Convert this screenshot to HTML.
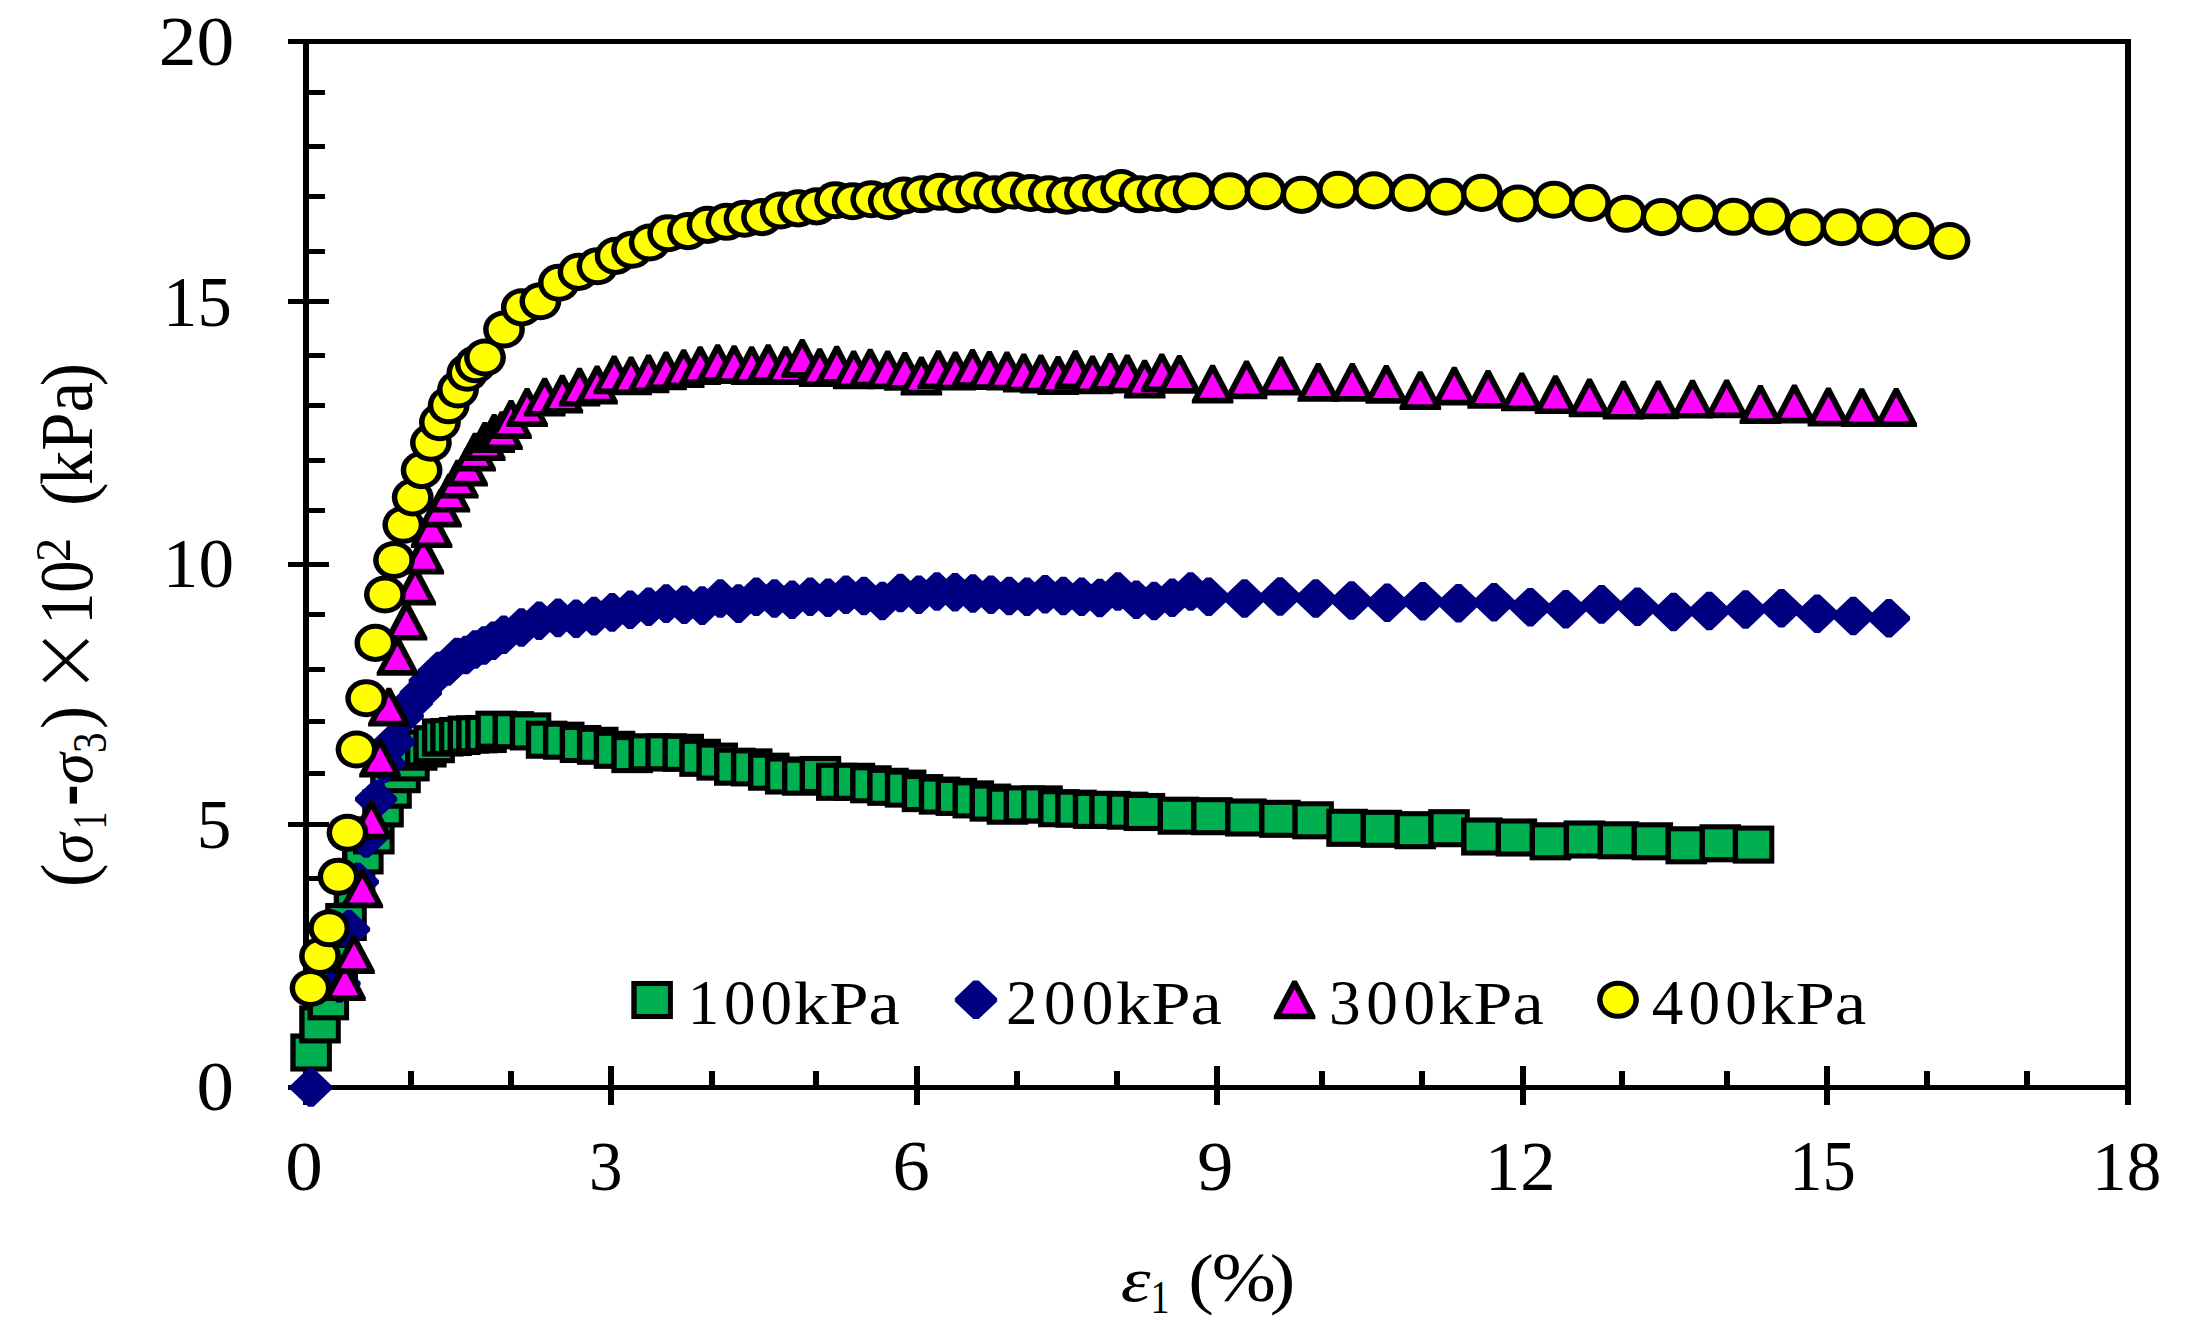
<!DOCTYPE html>
<html lang="en">
<head>
<meta charset="utf-8">
<title>Stress-strain curves</title>
<style>
html,body{margin:0;padding:0;background:#fff;}
body{width:2186px;height:1339px;overflow:hidden;}
svg{display:block;}
text{font-family:"Liberation Serif",serif;fill:#000;}
.it{font-style:italic;}
</style>
</head>
<body>
<svg width="2186" height="1339" viewBox="0 0 2186 1339">
<rect x="0" y="0" width="2186" height="1339" fill="#fff"/>
<defs>
<g id="sq"><rect x="-20.8" y="-19.05" width="41.6" height="38.1" fill="#000"/><rect x="-15.4" y="-13.95" width="31.2" height="27.9" fill="#00B050"/></g>
<g id="di"><polygon points="-2.6,-19.3 2.6,-19.3 21.15,-1.6 21.15,1.6 2.6,19.3 -2.6,19.3 -21.15,1.6 -21.15,-1.6" fill="#000080"/></g>
<g id="tr"><polygon points="-2.2,-19.4 2.2,-19.4 20.8,16 20.8,19.4 -20.8,19.4 -20.8,16" fill="#000"/><polygon points="0,-10.8 13.1,13.7 -13.1,13.7" fill="#FF00FF"/></g>
<g id="ci"><ellipse cx="0" cy="0" rx="20.9" ry="19.05" fill="#000"/><ellipse cx="0" cy="0" rx="15.4" ry="14.05" fill="#FFFF00"/></g>
</defs>
<g fill="#000" shape-rendering="crispEdges">
<rect x="288" y="39" width="1843" height="5"/>
<rect x="288" y="1085" width="1843" height="5"/>
<rect x="303" y="39" width="6" height="1066"/>
<rect x="2125" y="39" width="6" height="1066"/>
<rect x="309" y="90" width="16" height="5"/>
<rect x="309" y="144" width="16" height="5"/>
<rect x="309" y="194" width="16" height="5"/>
<rect x="309" y="249" width="16" height="5"/>
<rect x="288" y="299" width="41" height="5"/>
<rect x="309" y="353" width="16" height="5"/>
<rect x="309" y="403" width="16" height="5"/>
<rect x="309" y="458" width="16" height="5"/>
<rect x="309" y="508" width="16" height="5"/>
<rect x="288" y="562" width="41" height="5"/>
<rect x="309" y="612" width="16" height="5"/>
<rect x="309" y="667" width="16" height="5"/>
<rect x="309" y="718.5" width="16" height="5"/>
<rect x="309" y="771" width="16" height="5"/>
<rect x="288" y="821.5" width="41" height="5"/>
<rect x="309" y="875.5" width="16" height="5"/>
<rect x="309" y="927.5" width="16" height="5"/>
<rect x="309" y="980" width="16" height="5"/>
<rect x="309" y="1032" width="16" height="5"/>
<rect x="407.9" y="1071" width="6" height="15"/>
<rect x="507.8" y="1071" width="6" height="15"/>
<rect x="607.6" y="1066" width="6" height="39"/>
<rect x="708.8" y="1071" width="6" height="15"/>
<rect x="813.3" y="1071" width="6" height="15"/>
<rect x="914.2" y="1066" width="6" height="39"/>
<rect x="1013.7" y="1071" width="6" height="15"/>
<rect x="1113.9" y="1071" width="6" height="15"/>
<rect x="1214.4" y="1066" width="6" height="39"/>
<rect x="1318.6" y="1071" width="6" height="15"/>
<rect x="1418.8" y="1071" width="6" height="15"/>
<rect x="1519.6" y="1066" width="6" height="39"/>
<rect x="1619.4" y="1071" width="6" height="15"/>
<rect x="1723.9" y="1071" width="6" height="15"/>
<rect x="1824.3" y="1066" width="6" height="39"/>
<rect x="1924.2" y="1071" width="6" height="15"/>
<rect x="2024.4" y="1071" width="6" height="15"/>
</g>
<g id="s100">
<use href="#sq" x="311.1" y="1052.5"/><use href="#sq" x="320" y="1024.4"/><use href="#sq" x="328.3" y="1001.3"/><use href="#sq" x="337.2" y="962"/><use href="#sq" x="346" y="922"/><use href="#sq" x="354.5" y="888.5"/><use href="#sq" x="362.8" y="855.4"/><use href="#sq" x="373.8" y="835.4"/><use href="#sq" x="383" y="808.4"/><use href="#sq" x="391" y="789.7"/><use href="#sq" x="400" y="774.2"/><use href="#sq" x="408.9" y="762.4"/><use href="#sq" x="416.7" y="751.7"/><use href="#sq" x="425.8" y="748.5"/><use href="#sq" x="434.1" y="744.2"/><use href="#sq" x="442.7" y="737.5"/><use href="#sq" x="451" y="737"/><use href="#sq" x="459.7" y="736"/><use href="#sq" x="468.4" y="734.6"/><use href="#sq" x="477" y="734.3"/><use href="#sq" x="486" y="734"/><use href="#sq" x="496.2" y="729.7"/><use href="#sq" x="513.3" y="730.2"/><use href="#sq" x="530.5" y="731.4"/><use href="#sq" x="546.6" y="739.7"/><use href="#sq" x="563.7" y="740.7"/><use href="#sq" x="580.5" y="744"/><use href="#sq" x="597.7" y="745.8"/><use href="#sq" x="614.5" y="749.8"/><use href="#sq" x="632.1" y="754.1"/><use href="#sq" x="649.3" y="752.3"/><use href="#sq" x="666.1" y="752.3"/><use href="#sq" x="683.2" y="752.8"/><use href="#sq" x="700.1" y="757.8"/><use href="#sq" x="717.2" y="761.6"/><use href="#sq" x="734.8" y="766.7"/><use href="#sq" x="751.7" y="767.4"/><use href="#sq" x="768.8" y="771.7"/><use href="#sq" x="785.7" y="775.5"/><use href="#sq" x="802.8" y="776.7"/><use href="#sq" x="820.4" y="775"/><use href="#sq" x="836.8" y="781.8"/><use href="#sq" x="854.4" y="781.8"/><use href="#sq" x="870.9" y="784.3"/><use href="#sq" x="888" y="786.8"/><use href="#sq" x="905.6" y="788.6"/><use href="#sq" x="922.5" y="793.1"/><use href="#sq" x="939.6" y="795.6"/><use href="#sq" x="956.4" y="796.9"/><use href="#sq" x="973.3" y="799.4"/><use href="#sq" x="990.4" y="802.6"/><use href="#sq" x="1007.5" y="805.7"/><use href="#sq" x="1024.4" y="804.4"/><use href="#sq" x="1042" y="804.4"/><use href="#sq" x="1058.9" y="808.2"/><use href="#sq" x="1076" y="808.7"/><use href="#sq" x="1093.6" y="809.9"/><use href="#sq" x="1110" y="809.9"/><use href="#sq" x="1127.6" y="810.7"/><use href="#sq" x="1144.4" y="812"/><use href="#sq" x="1178.4" y="815.7"/><use href="#sq" x="1211.9" y="816.2"/><use href="#sq" x="1245.9" y="817.5"/><use href="#sq" x="1279.9" y="818.8"/><use href="#sq" x="1313.1" y="820.3"/><use href="#sq" x="1347.1" y="827.8"/><use href="#sq" x="1381.3" y="828.8"/><use href="#sq" x="1415.2" y="830.2"/><use href="#sq" x="1449" y="828.2"/><use href="#sq" x="1481.9" y="836.5"/><use href="#sq" x="1516.4" y="837.5"/><use href="#sq" x="1550.4" y="841.3"/><use href="#sq" x="1584.4" y="839.5"/><use href="#sq" x="1618.4" y="840.3"/><use href="#sq" x="1652.3" y="841.3"/><use href="#sq" x="1686.3" y="845.3"/><use href="#sq" x="1720.3" y="843.3"/><use href="#sq" x="1753.5" y="844.6"/>
</g>
<g id="s200">
<use href="#di" x="311" y="1087.5"/><use href="#di" x="339.5" y="983.5"/><use href="#di" x="349" y="929.3"/><use href="#di" x="357.8" y="881.9"/><use href="#di" x="366.2" y="838.4"/><use href="#di" x="376.1" y="799.2"/><use href="#di" x="384.7" y="763.5"/><use href="#di" x="394" y="742"/><use href="#di" x="402.7" y="716"/><use href="#di" x="411.8" y="703"/><use href="#di" x="420.8" y="693"/><use href="#di" x="429.8" y="681"/><use href="#di" x="438.9" y="671"/><use href="#di" x="447.9" y="666.5"/><use href="#di" x="456.9" y="657"/><use href="#di" x="465.9" y="655"/><use href="#di" x="474.9" y="649.5"/><use href="#di" x="484" y="645.5"/><use href="#di" x="493.2" y="640.8"/><use href="#di" x="503.7" y="634.8"/><use href="#di" x="521.4" y="627.5"/><use href="#di" x="539.1" y="620.7"/><use href="#di" x="558" y="617.9"/><use href="#di" x="576.1" y="618.7"/><use href="#di" x="594" y="616.1"/><use href="#di" x="612.1" y="612.4"/><use href="#di" x="630.2" y="609.8"/><use href="#di" x="648.6" y="606.8"/><use href="#di" x="666.2" y="603.6"/><use href="#di" x="684.3" y="604.8"/><use href="#di" x="702.2" y="605.6"/><use href="#di" x="720.3" y="598.5"/><use href="#di" x="738.5" y="603.6"/><use href="#di" x="756.3" y="596.8"/><use href="#di" x="774.5" y="598.5"/><use href="#di" x="792.1" y="599.8"/><use href="#di" x="810.2" y="596.8"/><use href="#di" x="828.1" y="597.8"/><use href="#di" x="846" y="594.7"/><use href="#di" x="863.9" y="596"/><use href="#di" x="882.3" y="601"/><use href="#di" x="900.4" y="593"/><use href="#di" x="918.8" y="594.7"/><use href="#di" x="936.9" y="591.5"/><use href="#di" x="955" y="592.2"/><use href="#di" x="972.9" y="593.5"/><use href="#di" x="991" y="594.7"/><use href="#di" x="1009.1" y="596"/><use href="#di" x="1027" y="596.8"/><use href="#di" x="1045.1" y="594.2"/><use href="#di" x="1063.3" y="596"/><use href="#di" x="1081.6" y="596.8"/><use href="#di" x="1099.8" y="598"/><use href="#di" x="1117.9" y="591.5"/><use href="#di" x="1136.3" y="599.8"/><use href="#di" x="1154.1" y="601"/><use href="#di" x="1172.2" y="597.8"/><use href="#di" x="1190.6" y="591.5"/><use href="#di" x="1208.7" y="596.8"/><use href="#di" x="1244.5" y="598.5"/><use href="#di" x="1280" y="596.5"/><use href="#di" x="1315.7" y="598.5"/><use href="#di" x="1351.5" y="600.5"/><use href="#di" x="1387.2" y="602.8"/><use href="#di" x="1422.8" y="601.2"/><use href="#di" x="1458.5" y="603.2"/><use href="#di" x="1494" y="602.2"/><use href="#di" x="1530.3" y="607.2"/><use href="#di" x="1565.8" y="609.2"/><use href="#di" x="1601.5" y="604.4"/><use href="#di" x="1637.5" y="606.7"/><use href="#di" x="1673.5" y="612"/><use href="#di" x="1709.2" y="611"/><use href="#di" x="1745.5" y="609.5"/><use href="#di" x="1781.5" y="608.2"/><use href="#di" x="1817.2" y="613.7"/><use href="#di" x="1853.2" y="616"/><use href="#di" x="1888.9" y="618.3"/>
</g>
<g id="s300">
<use href="#tr" x="345" y="981.5"/><use href="#tr" x="354" y="954.6"/><use href="#tr" x="362.3" y="888.9"/><use href="#tr" x="371.4" y="820"/><use href="#tr" x="380" y="758"/><use href="#tr" x="388.9" y="707.1"/><use href="#tr" x="397.5" y="656.3"/><use href="#tr" x="406.5" y="621.2"/><use href="#tr" x="415.2" y="586.1"/><use href="#tr" x="423.3" y="555"/><use href="#tr" x="431.6" y="528.7"/><use href="#tr" x="441" y="508.1"/><use href="#tr" x="449.4" y="493.2"/><use href="#tr" x="457.8" y="479.2"/><use href="#tr" x="467.1" y="467.1"/><use href="#tr" x="475.1" y="452.1"/><use href="#tr" x="484.8" y="441.5"/><use href="#tr" x="494.2" y="433.5"/><use href="#tr" x="502" y="430.7"/><use href="#tr" x="511" y="419.5"/><use href="#tr" x="527.1" y="407.5"/><use href="#tr" x="544.7" y="397.2"/><use href="#tr" x="562.3" y="394.2"/><use href="#tr" x="579.5" y="387.2"/><use href="#tr" x="597.1" y="385"/><use href="#tr" x="614.2" y="374.9"/><use href="#tr" x="631.1" y="375.9"/><use href="#tr" x="648.6" y="373.9"/><use href="#tr" x="666.1" y="370.8"/><use href="#tr" x="683.7" y="368.7"/><use href="#tr" x="700.2" y="365.6"/><use href="#tr" x="717.7" y="363.6"/><use href="#tr" x="734.2" y="364.6"/><use href="#tr" x="751.7" y="365.6"/><use href="#tr" x="768.2" y="363.6"/><use href="#tr" x="785.7" y="365.6"/><use href="#tr" x="802.2" y="358.4"/><use href="#tr" x="819.7" y="367.7"/><use href="#tr" x="836.8" y="365.2"/><use href="#tr" x="853.7" y="369.8"/><use href="#tr" x="870.2" y="368.1"/><use href="#tr" x="887.7" y="369.8"/><use href="#tr" x="904.9" y="371.4"/><use href="#tr" x="921.4" y="376"/><use href="#tr" x="938.3" y="369.7"/><use href="#tr" x="955.4" y="371"/><use href="#tr" x="972.5" y="368.5"/><use href="#tr" x="989.4" y="370.5"/><use href="#tr" x="1007" y="371"/><use href="#tr" x="1023.8" y="373"/><use href="#tr" x="1040.9" y="374"/><use href="#tr" x="1058.1" y="375.5"/><use href="#tr" x="1075.4" y="369.7"/><use href="#tr" x="1092.5" y="374.8"/><use href="#tr" x="1110.2" y="372.3"/><use href="#tr" x="1127.3" y="374"/><use href="#tr" x="1144.7" y="379.1"/><use href="#tr" x="1161.8" y="372.8"/><use href="#tr" x="1179.4" y="374.3"/><use href="#tr" x="1212.6" y="384.1"/><use href="#tr" x="1246.6" y="379.8"/><use href="#tr" x="1280.8" y="376"/><use href="#tr" x="1318.3" y="382.3"/><use href="#tr" x="1352.3" y="382.3"/><use href="#tr" x="1386.3" y="384.3"/><use href="#tr" x="1420.3" y="390.6"/><use href="#tr" x="1454.3" y="386.1"/><use href="#tr" x="1488.1" y="389.4"/><use href="#tr" x="1521.8" y="391.9"/><use href="#tr" x="1555.5" y="394.7"/><use href="#tr" x="1589.5" y="397.9"/><use href="#tr" x="1623.5" y="400.2"/><use href="#tr" x="1658.2" y="399.9"/><use href="#tr" x="1692.5" y="399.2"/><use href="#tr" x="1726.7" y="398.9"/><use href="#tr" x="1760.4" y="404.5"/><use href="#tr" x="1794.4" y="404"/><use href="#tr" x="1828.4" y="407"/><use href="#tr" x="1861.8" y="407.7"/><use href="#tr" x="1896.2" y="407.5"/>
</g>
<g id="s400">
<use href="#ci" x="310.5" y="988"/><use href="#ci" x="320" y="956"/><use href="#ci" x="329.2" y="928.3"/><use href="#ci" x="338.5" y="876.7"/><use href="#ci" x="347.5" y="832.8"/><use href="#ci" x="356.5" y="749.5"/><use href="#ci" x="366.2" y="698.2"/><use href="#ci" x="375.4" y="642.9"/><use href="#ci" x="384.9" y="594.5"/><use href="#ci" x="394" y="560"/><use href="#ci" x="403.3" y="524.8"/><use href="#ci" x="412.7" y="497.4"/><use href="#ci" x="421.6" y="470.1"/><use href="#ci" x="430.9" y="442.7"/><use href="#ci" x="439.9" y="422.2"/><use href="#ci" x="448.7" y="405.3"/><use href="#ci" x="458" y="389.5"/><use href="#ci" x="467.4" y="372.7"/><use href="#ci" x="475.8" y="364.3"/><use href="#ci" x="485" y="357.5"/><use href="#ci" x="504" y="329.5"/><use href="#ci" x="521.8" y="307.4"/><use href="#ci" x="540.4" y="301.2"/><use href="#ci" x="558.9" y="282.7"/><use href="#ci" x="578.5" y="271.9"/><use href="#ci" x="597.5" y="266.2"/><use href="#ci" x="615.6" y="255.9"/><use href="#ci" x="632.1" y="249.7"/><use href="#ci" x="649.7" y="242.5"/><use href="#ci" x="668.2" y="233.2"/><use href="#ci" x="688" y="231.1"/><use href="#ci" x="707.5" y="224.9"/><use href="#ci" x="726.5" y="221.8"/><use href="#ci" x="744.5" y="218.7"/><use href="#ci" x="762" y="217.1"/><use href="#ci" x="780.6" y="210.5"/><use href="#ci" x="798.1" y="208.4"/><use href="#ci" x="816.6" y="206.4"/><use href="#ci" x="835.2" y="200.2"/><use href="#ci" x="852.7" y="201.2"/><use href="#ci" x="871.3" y="199.2"/><use href="#ci" x="888.8" y="201.2"/><use href="#ci" x="903.8" y="195.6"/><use href="#ci" x="921.9" y="194.3"/><use href="#ci" x="940" y="191.8"/><use href="#ci" x="958.1" y="194.3"/><use href="#ci" x="976.3" y="190.5"/><use href="#ci" x="994.4" y="194.3"/><use href="#ci" x="1012.5" y="190.5"/><use href="#ci" x="1030.6" y="193"/><use href="#ci" x="1048.8" y="194.3"/><use href="#ci" x="1066.9" y="195.6"/><use href="#ci" x="1085" y="193"/><use href="#ci" x="1103.1" y="194.3"/><use href="#ci" x="1121.2" y="188"/><use href="#ci" x="1139.4" y="194.3"/><use href="#ci" x="1157.5" y="193"/><use href="#ci" x="1175.6" y="194.3"/><use href="#ci" x="1193.7" y="191.2"/><use href="#ci" x="1229.7" y="191.2"/><use href="#ci" x="1265.5" y="191.2"/><use href="#ci" x="1301.5" y="194.9"/><use href="#ci" x="1338" y="189.7"/><use href="#ci" x="1374" y="190.4"/><use href="#ci" x="1410" y="192.9"/><use href="#ci" x="1446" y="196.7"/><use href="#ci" x="1481.8" y="192.9"/><use href="#ci" x="1518" y="203.5"/><use href="#ci" x="1554" y="199.7"/><use href="#ci" x="1590" y="203"/><use href="#ci" x="1625.8" y="213.8"/><use href="#ci" x="1661.5" y="217.1"/><use href="#ci" x="1697.5" y="213.3"/><use href="#ci" x="1733.5" y="216.8"/><use href="#ci" x="1769.5" y="216.6"/><use href="#ci" x="1805.5" y="227.2"/><use href="#ci" x="1841.5" y="227.2"/><use href="#ci" x="1877.5" y="227.2"/><use href="#ci" x="1914" y="231"/><use href="#ci" x="1949.5" y="241"/>
</g>
<g id="legend">
<use href="#sq" x="652.1" y="1000"/><use href="#di" x="976" y="999.8"/><use href="#tr" x="1294.6" y="999.8"/><use href="#ci" x="1618" y="999.8"/>
<text transform="translate(687.67,1024.29) scale(1.0070,1.0070)" font-size="62.6" letter-spacing="4.91">100</text>
<text transform="translate(793.87,1024.32) scale(1.1293,0.9800)" font-size="62.6">kPa</text>
<text transform="translate(1005.97,1024.39) scale(1.0093,1.0093)" font-size="62.6" letter-spacing="6.28">200</text>
<text transform="translate(1115.87,1024.42) scale(1.1293,0.9822)" font-size="62.6">kPa</text>
<text transform="translate(1328.97,1024.39) scale(1.0093,1.0093)" font-size="62.6" letter-spacing="5.63">300</text>
<text transform="translate(1437.97,1024.42) scale(1.1261,0.9822)" font-size="62.6">kPa</text>
<text transform="translate(1651.69,1024.39) scale(1.0093,1.0093)" font-size="62.6" letter-spacing="5.18">400</text>
<text transform="translate(1759.97,1024.42) scale(1.1315,0.9822)" font-size="62.6">kPa</text>
</g>
<g id="ylabels">
<text transform="translate(158.70,64.69) scale(1.1016,1.0130)" font-size="68.5">20</text>
<text transform="translate(163.09,326.34) scale(1.0017,1.0556)" font-size="68.5">15</text>
<text transform="translate(162.87,587.07) scale(1.0383,1.0326)" font-size="68.5">10</text>
<text transform="translate(196.86,848.17) scale(1.0107,1.0267)" font-size="68.5">5</text>
<text transform="translate(196.42,1110.07) scale(1.0931,1.0283)" font-size="68.5">0</text>
</g>
<g id="xlabels">
<text transform="translate(285.31,1189.97) scale(1.0966,1.0283)" font-size="68.5">0</text>
<text transform="translate(589.06,1189.97) scale(0.9793,1.0261)" font-size="68.5">3</text>
<text transform="translate(892.53,1189.97) scale(1.0897,1.0348)" font-size="68.5">6</text>
<text transform="translate(1197.29,1190.18) scale(1.0533,1.0217)" font-size="68.5">9</text>
<text transform="translate(1484.91,1190.00) scale(1.0322,1.0311)" font-size="68.5">12</text>
<text transform="translate(1789.27,1189.95) scale(0.9717,1.0533)" font-size="68.5">15</text>
<text transform="translate(2092.03,1189.97) scale(1.0117,1.0304)" font-size="68.5">18</text>
</g>
<g id="xtitle">
<text transform="translate(1120.80,1300.67) scale(1.1038,0.9333)" font-size="68.5" class="it">ε</text>
<text transform="translate(1150.40,1313.20) scale(0.8250,1.0097)" font-size="46">1</text>
<text transform="translate(1188.33,1300.65) scale(1.1222,0.9820)" font-size="68.5">(</text>
<text transform="translate(1211.65,1301.38) scale(1.1226,1.0217)" font-size="68.5">%</text>
<text transform="translate(1269.76,1300.65) scale(1.1222,0.9820)" font-size="68.5">)</text>
</g>
<g id="ytitle">
<text transform="translate(91.70,887.13) rotate(-90) scale(1.0444,1.0787)" font-size="68.5">(</text>
<text transform="translate(92.38,863.92) rotate(-90) scale(0.9088,0.9222)" font-size="68.5" class="it">σ</text>
<text transform="translate(106.10,829.28) rotate(-90) scale(0.7688,1.0613)" font-size="46">1</text>
<text transform="translate(96.36,805.89) rotate(-90) scale(0.9444,1.4200)" font-size="68.5">-</text>
<text transform="translate(92.38,784.14) rotate(-90) scale(0.9176,0.9222)" font-size="68.5" class="it">σ</text>
<text transform="translate(106.10,752.90) rotate(-90) scale(0.9000,1.0613)" font-size="46">3</text>
<text transform="translate(91.70,729.02) rotate(-90) scale(1.0111,1.0787)" font-size="68.5">)</text>
<text transform="translate(92.63,694.87) rotate(-90) scale(0.9976,1.0833)" font-size="68.5" style="font-family:'Noto Serif CJK SC','Liberation Serif',serif" stroke="#000" stroke-width="1.1">×</text>
<text transform="translate(92.09,624.82) rotate(-90) scale(0.9367,1.1087)" font-size="68.5">10</text>
<text transform="translate(70.40,562.01) rotate(-90) scale(1.0526,1.0839)" font-size="46">2</text>
<text transform="translate(91.88,505.98) rotate(-90) scale(1.0278,1.0869)" font-size="68.5">(</text>
<text transform="translate(92.11,485.10) rotate(-90) scale(1.0040,1.0917)" font-size="68.5">kPa</text>
<text transform="translate(91.88,386.34) rotate(-90) scale(1.0222,1.0869)" font-size="68.5">)</text>
</g>
</svg>
</body>
</html>
